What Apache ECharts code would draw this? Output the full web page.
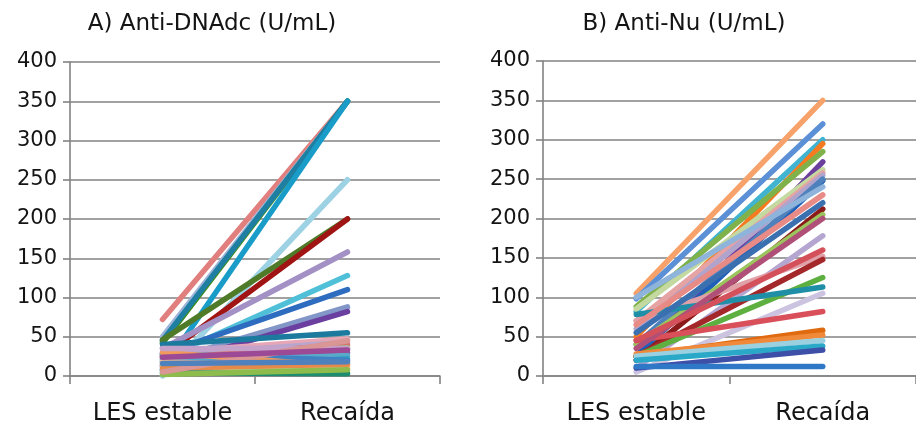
<!DOCTYPE html>
<html>
<head>
<meta charset="utf-8">
<script src="https://cdn.jsdelivr.net/npm/echarts@6/dist/echarts.min.js"></script>
<style>html,body{margin:0;padding:0;background:#fff}#c{width:916px;height:426px}</style>
</head>
<body>
<div id="c"></div>
<script>
const categories = ['LES estable', 'Recaída'];
const titles = ['A) Anti-DNAdc (U/mL)', 'B) Anti-Nu (U/mL)'];

// Panel A: Anti-DNAdc, value at "LES estable" and at "Recaída" per patient
const dnaStable  = [72, 50, 42, 45, 8, 0, 46, 25, 35, 22, 28, 18, 12, 40, 30, 26, 22, 18, 14, 20, 8, 28, 30, 18, 14, 4, 10, 35, 2, 5, 16, 24];
const dnaRelapse = [350, 350, 350, 350, 350, 250, 200, 200, 158, 128, 110, 88, 82, 55, 47, 43, 40, 36, 30, 26, 22, 20, 12, 10, 5, 3, 15, 35, 8, 45, 18, 33];

// Panel B: Anti-Nu
const nuStable  = [105, 98, 82, 50, 88, 25, 85, 70, 60, 25, 40, 20, 40, 10, 70, 25, 25, 78, 5, 45, 25, 28, 25, 20, 10, 12, 100, 65, 55, 35, 45];
const nuRelapse = [350, 320, 300, 295, 285, 272, 262, 258, 255, 248, 250, 212, 205, 178, 152, 148, 125, 113, 105, 82, 58, 52, 45, 38, 33, 12, 240, 230, 220, 200, 160];

// styles
const dnaColors = ['#E07F7D', '#9DB3D8', '#3E8E1E', '#1F7FA3', '#1A9CC8', '#9CD2E4', '#4F7A28', '#A01414', '#A391C6', '#4FC0D8', '#2E6CC0', '#8296C8', '#6B3FA0', '#1C7A9E', '#E6A6B6', '#B7A6CE', '#D8716F', '#94C47C', '#7A5FA8', '#5AA9C9', '#2BA0C4', '#3E82C4', '#F29A5A', '#FAB98A', '#B6D79B', '#1E8C6E', '#E58A4A', '#C4A2CA', '#8DBB4C', '#D99694', '#4F81BD', '#9C4A96'];
const nuColors = ['#F7A26A', '#5B8FD6', '#3FB3CF', '#F57A20', '#7FB24A', '#6A3F9E', '#C3D9A0', '#E5A3A3', '#B0A4CC', '#1F5FB8', '#4F81BD', '#8B1A1A', '#9BC45C', '#B4A6D0', '#E0A0A8', '#A4282A', '#5DB040', '#1F8FA8', '#CCC3E0', '#D9505A', '#E06A10', '#F08A3A', '#9AD0E0', '#2AA8C8', '#3E4FA8', '#2F78C8', '#8FB4DC', '#E88A86', '#3A6FB0', '#B05078', '#D4505A'];

const FONT = 'DejaVu Sans';
const TXT = '#141414';
const GRID = '#828282';

function xAxis(gi) {
  return {
    type: 'category', gridIndex: gi, data: categories, boundaryGap: true,
    axisLine: { show: true, lineStyle: { color: GRID, width: 1.6 } },
    axisTick: { show: true, length: 8, lineStyle: { color: GRID, width: 1.6 } },
    axisLabel: { fontFamily: FONT, fontSize: 24, color: TXT, margin: 26 }
  };
}
function yAxis(gi) {
  return {
    type: 'value', gridIndex: gi, min: 0, max: 400, interval: 50,
    axisLine: { show: true, lineStyle: { color: GRID, width: 1.6 } },
    axisTick: { show: true, length: 7, lineStyle: { color: GRID, width: 1.6 } },
    axisLabel: { fontFamily: FONT, fontSize: 21, color: TXT, margin: 13 },
    splitLine: { show: true, lineStyle: { color: GRID, width: 1.6 } }
  };
}
function makeSeries(starts, ends, colors, gi) {
  return starts.map((s, i) => ({
    type: 'line', xAxisIndex: gi, yAxisIndex: gi,
    data: [s, ends[i]], symbol: 'none', showSymbol: false,
    lineStyle: { width: 5.5, color: colors[i % colors.length], cap: 'round' },
    emphasis: { disabled: true }, silent: true
  }));
}

const chart = echarts.init(document.getElementById('c'), null, { renderer: 'canvas' });
chart.setOption({
  animation: false,
  backgroundColor: '#fff',
  title: [
    { text: titles[0], left: 207, top: 8, textAlign: 'center', textStyle: { fontFamily: FONT, fontSize: 23, fontWeight: 'normal', color: TXT } },
    { text: titles[1], left: 679, top: 8, textAlign: 'center', textStyle: { fontFamily: FONT, fontSize: 23, fontWeight: 'normal', color: TXT } }
  ],
  grid: [
    { left: 70, top: 62, width: 370, height: 314 },
    { left: 543, top: 61, width: 382, height: 318 }
  ],
  xAxis: [xAxis(0), xAxis(1)],
  yAxis: [yAxis(0), yAxis(1)],
  series: makeSeries(dnaStable, dnaRelapse, dnaColors, 0).concat(makeSeries(nuStable, nuRelapse, nuColors, 1))
});
</script>
</body>
</html>
